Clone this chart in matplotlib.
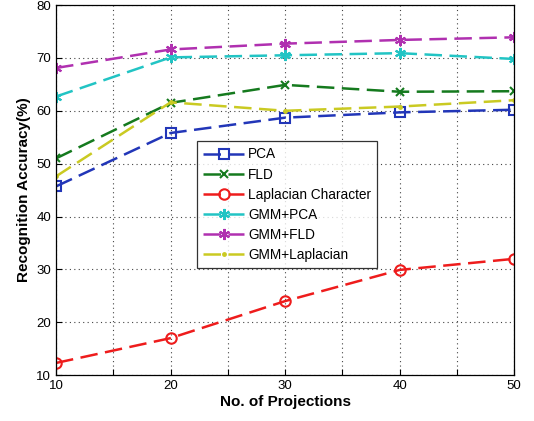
import numpy as np
import matplotlib
matplotlib.use("Agg")
import matplotlib.pyplot as plt

plt.rcParams['font.family'] = ['Liberation Sans', 'DejaVu Sans']

# values
proj = [10, 20, 30, 40, 50]
pca = [45.7, 55.8, 58.7, 59.7, 60.2]
fld = [51.0, 61.5, 64.9, 63.6, 63.7]
lap = [12.3, 17.0, 24.0, 29.9, 32.0]
gmm_pca = [62.7, 70.1, 70.5, 70.9, 69.8]
gmm_fld = [68.1, 71.6, 72.7, 73.4, 73.9]
gmm_lap = [47.6, 61.6, 60.0, 60.8, 62.0]

names = ['PCA', 'FLD', 'Laplacian Character', 'GMM+PCA', 'GMM+FLD', 'GMM+Laplacian']
series = [pca, fld, lap, gmm_pca, gmm_fld, gmm_lap]
colors = ['#2236B8', '#157A1E', '#EE1C1C', '#22C4C4', '#B030B0', '#CACA22']
# (6, 2, 0) = asterisk, like matlab '*'
markers = ['s', 'x', 'o', (6, 2, 0), (6, 2, 0), '.']
msizes = [6.5, 6, 7.5, 8, 8, 4]

fig = plt.figure(figsize=(5.34, 4.21), dpi=100)
ax = fig.add_axes([0.105, 0.109, 0.858, 0.879])

for y, nm, c, m, ms in zip(series, names, colors, markers, msizes):
    ax.plot(proj, y, linestyle=(0, (7, 3)), color=c, lw=1.8, marker=m, ms=ms,
            mfc='none' if m in ('s', 'o') else c, mec=c, mew=1.5, label=nm)

ax.set_xlim(10, 50)
ax.set_ylim(10, 80)
xt = np.arange(10, 51, 5)
ax.set_xticks(xt)
ax.set_xticklabels([str(v) if v % 10 == 0 else '' for v in xt])
ax.set_yticks(np.arange(10, 81, 10))
ax.grid(True, linestyle=(0, (1, 3)), color='#444444', lw=0.8)
ax.tick_params(direction='in', labelsize=9.5, length=4)
for s in ax.spines.values():
    s.set_linewidth(0.9)

ax.set_xlabel('No. of Projections', fontsize=11, fontweight='bold', labelpad=2)
ax.set_ylabel('Recognition Accuracy(%)', fontsize=11, fontweight='bold', labelpad=4)

leg = ax.legend(loc='lower left', bbox_to_anchor=(0.308, 0.289), borderaxespad=0,
                fontsize=9.8, frameon=True, fancybox=False, edgecolor='black',
                handlelength=3.0, labelspacing=0.45, borderpad=0.45, handletextpad=0.3)
leg.get_frame().set_linewidth(0.9)

fig.savefig('out.png', dpi=100)
